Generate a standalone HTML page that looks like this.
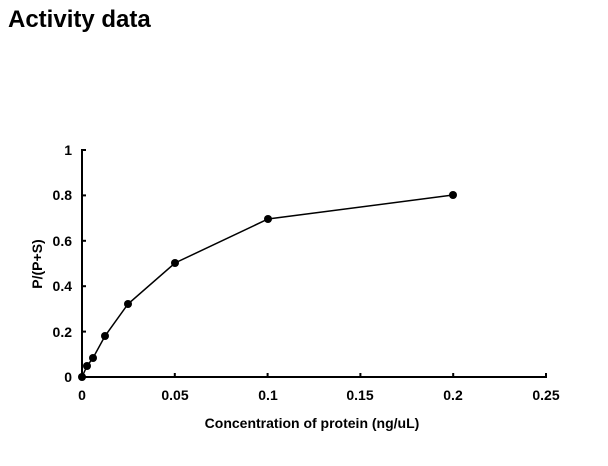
<!DOCTYPE html>
<html><head><meta charset="utf-8"><style>
html,body{margin:0;padding:0;background:#fff;}
</style></head><body>
<svg width="608" height="461" xmlns="http://www.w3.org/2000/svg" font-family="Liberation Sans, sans-serif">
<rect width="608" height="461" fill="#fff"/>
<text x="8" y="27" font-size="24" font-weight="bold">Activity data</text>
<g stroke="#000" stroke-width="2" fill="none">
<line x1="82" y1="149" x2="82" y2="378"/>
<line x1="81" y1="377" x2="547" y2="377"/>
<line x1="82" y1="150" x2="86" y2="150"/>
<line x1="82" y1="195.4" x2="86" y2="195.4"/>
<line x1="82" y1="240.8" x2="86" y2="240.8"/>
<line x1="82" y1="286.2" x2="86" y2="286.2"/>
<line x1="82" y1="331.6" x2="86" y2="331.6"/>
<line x1="174.8" y1="377" x2="174.8" y2="373"/>
<line x1="267.6" y1="377" x2="267.6" y2="373"/>
<line x1="360.4" y1="377" x2="360.4" y2="373"/>
<line x1="453.2" y1="377" x2="453.2" y2="373"/>
<line x1="546" y1="377" x2="546" y2="373"/>
</g>
<polyline fill="none" stroke="#000" stroke-width="1.5" points="82,377 87,366 93,358 105,336 128,304 175,263 268,219 453,195"/>
<g fill="#000">
<circle cx="82" cy="377" r="4"/><circle cx="87" cy="366" r="4"/><circle cx="93" cy="358" r="4"/><circle cx="105" cy="336" r="4"/><circle cx="128" cy="304" r="4"/><circle cx="175" cy="263" r="4"/><circle cx="268" cy="219" r="4"/><circle cx="453" cy="195" r="4"/>
</g>
<g font-size="14" font-weight="bold" text-anchor="end">
<text x="72" y="155">1</text>
<text x="72" y="200">0.8</text>
<text x="72" y="246">0.6</text>
<text x="72" y="291">0.4</text>
<text x="72" y="337">0.2</text>
<text x="72" y="382">0</text>
</g>
<g font-size="14" font-weight="bold" text-anchor="middle">
<text x="82" y="400">0</text>
<text x="175" y="400">0.05</text>
<text x="268" y="400">0.1</text>
<text x="360" y="400">0.15</text>
<text x="453" y="400">0.2</text>
<text x="546" y="400">0.25</text>
<text x="312" y="428">Concentration of protein (ng/uL)</text>
<text transform="translate(42,264) rotate(-90)">P/(P+S)</text>
</g>
</svg>
</body></html>
